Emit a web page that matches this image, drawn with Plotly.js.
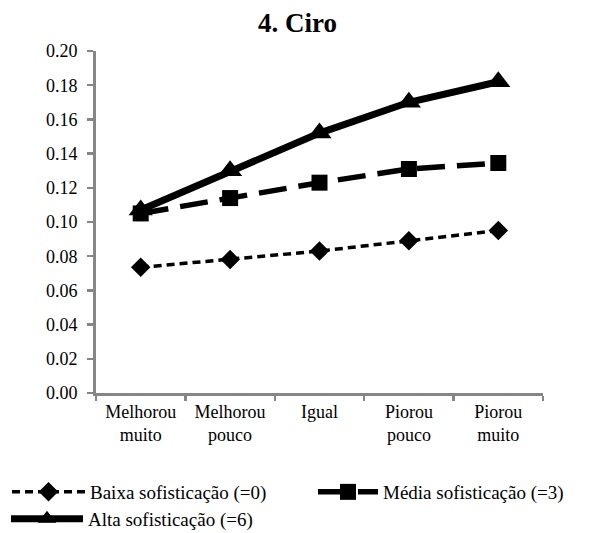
<!DOCTYPE html>
<html><head><meta charset="utf-8">
<script src="https://cdn.plot.ly/plotly-3.0.1.min.js"></script>
<style>body{margin:0;background:#fff}#chart{width:595px;height:533px}</style>
</head><body><div id="chart"></div>
<script>
const categories = ["Melhorou<br>muito", "Melhorou<br>pouco", "Igual", "Piorou<br>pouco", "Piorou<br>muito"];
const baixa = [0.0735, 0.078, 0.083, 0.089, 0.095];
const media = [0.105, 0.114, 0.123, 0.131, 0.1345];
const alta  = [0.107, 0.130, 0.152, 0.170, 0.182];
const seriesNames = ["Baixa sofisticação (=0)", "Média sofisticação (=3)", "Alta sofisticação (=6)"];
const yTicks = [0, 0.02, 0.04, 0.06, 0.08, 0.10, 0.12, 0.14, 0.16, 0.18, 0.20];

const FONT = "'Liberation Serif', 'Times New Roman', serif";

const traces = [
  {x: categories, y: baixa, name: seriesNames[0], type: "scatter", mode: "lines+markers", legend: "legend",
   line: {color: "#000", width: 3.5, dash: "8px,5px"}, marker: {symbol: "diamond", size: 15, color: "#000"}},
  {x: categories, y: media, name: seriesNames[1], type: "scatter", mode: "lines+markers", legend: "legend2",
   line: {color: "#000", width: 5.5, dash: "28px,12px"}, marker: {symbol: "square", size: 16, color: "#000"}},
  {x: categories, y: alta, name: seriesNames[2], type: "scatter", mode: "lines+markers", legend: "legend3",
   line: {color: "#000", width: 7}, marker: {symbol: "triangle-up", size: 21, color: "#000"}}
];

const legendBase = {orientation: "h", xanchor: "left", yanchor: "middle", xref: "container", yref: "container",
  font: {size: 19, family: FONT, color: "#000"}, itemwidth: 72, bgcolor: "rgba(0,0,0,0)"};

const layout = {
  width: 595, height: 533,
  margin: {l: 96, r: 52, t: 51, b: 140},
  paper_bgcolor: "#fff", plot_bgcolor: "#fff",
  font: {family: FONT, size: 18, color: "#000"},
  title: {text: "<b>4. Ciro</b>", x: 0.5, xanchor: "center", y: 0.957, yanchor: "middle",
          font: {size: 27, family: FONT, color: "#000"}},
  xaxis: {type: "category", range: [-0.5, 4.5], tickson: "boundaries", showgrid: false,
          showline: true, linecolor: "#868686", linewidth: 3, ticks: "outside", ticklen: 5,
          tickcolor: "#868686", tickwidth: 2.5, zeroline: false, fixedrange: true,
          tickfont: {family: FONT, size: 18, color: "#000"}, automargin: false},
  yaxis: {range: [0, 0.2], tickvals: yTicks, tickformat: ".2f", showgrid: false, zeroline: false,
          showline: true, linecolor: "#868686", linewidth: 3, ticks: "outside", ticklen: 6,
          tickcolor: "#868686", tickwidth: 2.5, fixedrange: true, ticklabelstandoff: 6,
          tickfont: {family: FONT, size: 18, color: "#000"}, automargin: false},
  showlegend: true,
  legend:  Object.assign({}, legendBase, {x: 7 / 595, y: 1 - 492 / 533, itemwidth: 73}),
  legend2: Object.assign({}, legendBase, {x: 313 / 595, y: 1 - 492 / 533, itemwidth: 60}),
  legend3: Object.assign({}, legendBase, {x: 6 / 595, y: 1 - 519 / 533, itemwidth: 72})
};

Plotly.newPlot("chart", traces, layout, {displayModeBar: false, staticPlot: true});
</script></body></html>
